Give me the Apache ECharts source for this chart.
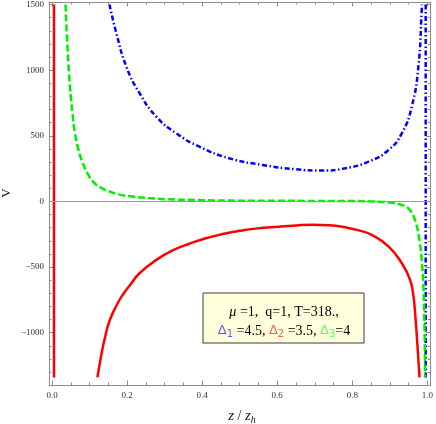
<!DOCTYPE html>
<html>
<head>
<meta charset="utf-8">
<script src="https://cdn.jsdelivr.net/npm/echarts@6/dist/echarts.min.js"></script>
<style>
  html, body { margin: 0; padding: 0; background: #fff; }
  #chart { width: 436px; height: 424px; }
</style>
</head>
<body>
<div id="chart"></div>
<script>
// Δ1 = 4.5 (blue, dash-dot)
const zBlue = [0.153, 0.1715, 0.198, 0.2334, 0.2777, 0.331, 0.3926, 0.472, 0.5606, 0.649, 0.72, 0.7817, 0.8435, 0.8966, 0.9319, 0.9584, 0.976, 0.985, 0.9855]
const vBlue = [1500, 1281, 1027, 824, 646, 519, 417, 329, 278, 245, 235, 253, 303, 392, 519, 722, 1027, 1459, 1500]
// blue jump near the horizon
const zBlueJump = [0.9955, 0.9955]
const vBlueJump = [1500, -1340]

// Δ2 = 3.5 (red, solid)
const zRed = [0.121, 0.130, 0.140, 0.154, 0.175, 0.190, 0.207, 0.233, 0.278, 0.320, 0.366, 0.410, 0.455, 0.500, 0.543, 0.605, 0.650, 0.693, 0.740, 0.782, 0.820, 0.852, 0.897, 0.932, 0.954, 0.963, 0.967, 0.971, 0.975, 0.979]
const vRed = [-1340, -1190, -1050, -903, -775, -705, -640, -547, -445, -375, -322, -280, -248, -224, -207, -192, -183, -177, -182, -197, -222, -255, -344, -471, -598, -725, -840, -990, -1160, -1340]
// red jump near the boundary
const zRedJump = [0.0053, 0.0053]
const vRedJump = [1500, -1340]

// Δ3 = 4 (green, dashed)
const zGreen = [0.036, 0.040, 0.045, 0.050, 0.055, 0.061, 0.070, 0.0787, 0.0935, 0.1096, 0.130, 0.154, 0.180, 0.215, 0.260, 0.304, 0.400, 0.500, 0.600, 0.700, 0.800, 0.850, 0.900, 0.930, 0.950, 0.967, 0.980, 0.985, 0.989, 0.992, 0.994]
const vGreen = [1500, 1240, 990, 800, 660, 521, 400, 316, 220, 151, 105, 75, 52, 37, 25, 17, 10, 6, 5, 4, 3, 0, -8, -25, -55, -141, -317, -450, -620, -900, -1340]

// ticks
const xMajorTicks = [0, 0.2, 0.4, 0.6, 0.8, 1.0]
const xMinorTicks = []
for (let i = 0; i <= 20; i++) xMinorTicks.push(+(i * 0.05).toFixed(2))
const yMajorTicks = [-1000, -500, 0, 500, 1000, 1500]
const yMinorTicks = []
for (let v = -1300; v <= 1500; v += 100) yMinorTicks.push(v)

const X_MIN = -0.008, X_MAX = 1.008
const Y_MIN = -1398, Y_MAX = 1519

const serif = '"Liberation Serif", "DejaVu Serif", serif'
const sans = '"DejaVu Sans", sans-serif'
const frameColor = '#8c8c8c'

const pairs = (xs, ys) => xs.map((x, i) => [x, ys[i]])

// 一条坐标轴（刻度朝内，可带标签）
const makeAxis = (kind, position, ticks, len, withLine, labels) => {
  const isX = kind === 'x'
  return {
    type: 'value',
    position: position,
    min: isX ? X_MIN : Y_MIN,
    max: isX ? X_MAX : Y_MAX,
    axisLine: { show: withLine, onZero: false, lineStyle: { color: frameColor, width: 1 } },
    axisTick: { show: true, inside: true, length: len, customValues: ticks, lineStyle: { color: frameColor, width: 1 } },
    axisLabel: labels
      ? {
          show: true,
          customValues: ticks,
          fontFamily: serif,
          fontSize: 9,
          color: '#333',
          margin: isX ? 6 : 5,
          formatter: isX ? (v) => v.toFixed(1) : (v) => String(v).replace('-', '\u2212')
        }
      : { show: false },
    splitLine: { show: false }
  }
}

const chart = echarts.init(document.getElementById('chart'))

const curve = (xs, ys, color, dash) => ({
  type: 'line',
  data: pairs(xs, ys),
  showSymbol: false,
  smooth: 0.5,
  lineStyle: { color: color, width: 2.5, type: dash },
  z: 3
})

const jump = (xs, ys, color, dash) => ({
  type: 'line',
  data: pairs(xs, ys),
  showSymbol: false,
  lineStyle: { color: color, width: 2.5, type: dash },
  z: 3
})

const blueDash = [5, 2.5, 1.5, 2.5]
const greenDash = [7, 3]

const redSeries = curve(zRed, vRed, '#ff0000', 'solid')
redSeries.markLine = {
  silent: true,
  symbol: 'none',
  label: { show: false },
  lineStyle: { color: '#999', width: 1, type: 'solid' },
  data: [{ yAxis: 0 }]
}

const option = {
  animation: false,
  backgroundColor: '#fff',
  grid: { left: 49, right: 4, top: 2, bottom: 39 },
  xAxis: [
    makeAxis('x', 'bottom', xMajorTicks, 4.5, true, true),
    makeAxis('x', 'bottom', xMinorTicks, 2.5, false, false),
    makeAxis('x', 'top', xMajorTicks, 4.5, true, false),
    makeAxis('x', 'top', xMinorTicks, 2.5, false, false)
  ],
  yAxis: [
    makeAxis('y', 'left', yMajorTicks, 4.5, true, true),
    makeAxis('y', 'left', yMinorTicks, 2.5, false, false),
    makeAxis('y', 'right', yMajorTicks, 4.5, true, false),
    makeAxis('y', 'right', yMinorTicks, 2.5, false, false)
  ],
  series: [
    curve(zBlue, vBlue, '#0000ff', blueDash),
    jump(zBlueJump, vBlueJump, '#0000ff', blueDash),
    redSeries,
    jump(zRedJump, vRedJump, '#ff0000', 'solid'),
    curve(zGreen, vGreen, '#00ee00', greenDash)
  ],
  graphic: [
    {
      type: 'text',
      x: 7,
      y: 193,
      rotation: Math.PI / 2,
      style: { text: 'V', font: '13px ' + serif, fill: '#222', align: 'center', verticalAlign: 'middle' }
    },
    {
      type: 'text',
      x: 242,
      y: 416,
      style: {
        text: '{i|z} / {i|z}{s|h}',
        font: '14px ' + serif,
        fill: '#222',
        align: 'center',
        verticalAlign: 'middle',
        rich: {
          i: { font: 'italic 15px ' + serif, fill: '#222', verticalAlign: 'middle', lineHeight: 18 },
          s: { font: 'italic 10px ' + serif, fill: '#222', verticalAlign: 'bottom', lineHeight: 18 }
        }
      }
    },
    {
      type: 'rect',
      shape: { x: 203, y: 293, width: 161, height: 50 },
      style: { fill: '#ffffdc', stroke: '#3c3c3c', lineWidth: 1 },
      z: 10
    },
    {
      type: 'text',
      x: 284,
      y: 312,
      z: 11,
      style: {
        text: '{i|μ} =1,  q=1, T=318.,',
        font: '14px ' + serif,
        fill: '#000',
        align: 'center',
        verticalAlign: 'middle',
        rich: {
          i: { font: 'italic 14px ' + serif, fill: '#000' }
        }
      }
    },
    {
      type: 'text',
      x: 284,
      y: 331,
      z: 11,
      style: {
        text: '{b|Δ}{bs|1} =4.5, {r|Δ}{rs|2} =3.5, {g|Δ}{gs|3}=4',
        font: '14px ' + serif,
        fill: '#000',
        align: 'center',
        verticalAlign: 'middle',
        rich: {
          b: { font: '13px ' + sans, fill: '#5a5aff', lineHeight: 17, verticalAlign: 'middle' },
          bs: { font: '10px ' + sans, fill: '#5a5aff', lineHeight: 17, verticalAlign: 'bottom' },
          r: { font: '13px ' + sans, fill: '#ff5a5a', lineHeight: 17, verticalAlign: 'middle' },
          rs: { font: '10px ' + sans, fill: '#ff5a5a', lineHeight: 17, verticalAlign: 'bottom' },
          g: { font: '13px ' + sans, fill: '#5aff5a', lineHeight: 17, verticalAlign: 'middle' },
          gs: { font: '10px ' + sans, fill: '#5aff5a', lineHeight: 17, verticalAlign: 'bottom' }
        }
      }
    }
  ]
}

chart.setOption(option)
</script>
</body>
</html>
